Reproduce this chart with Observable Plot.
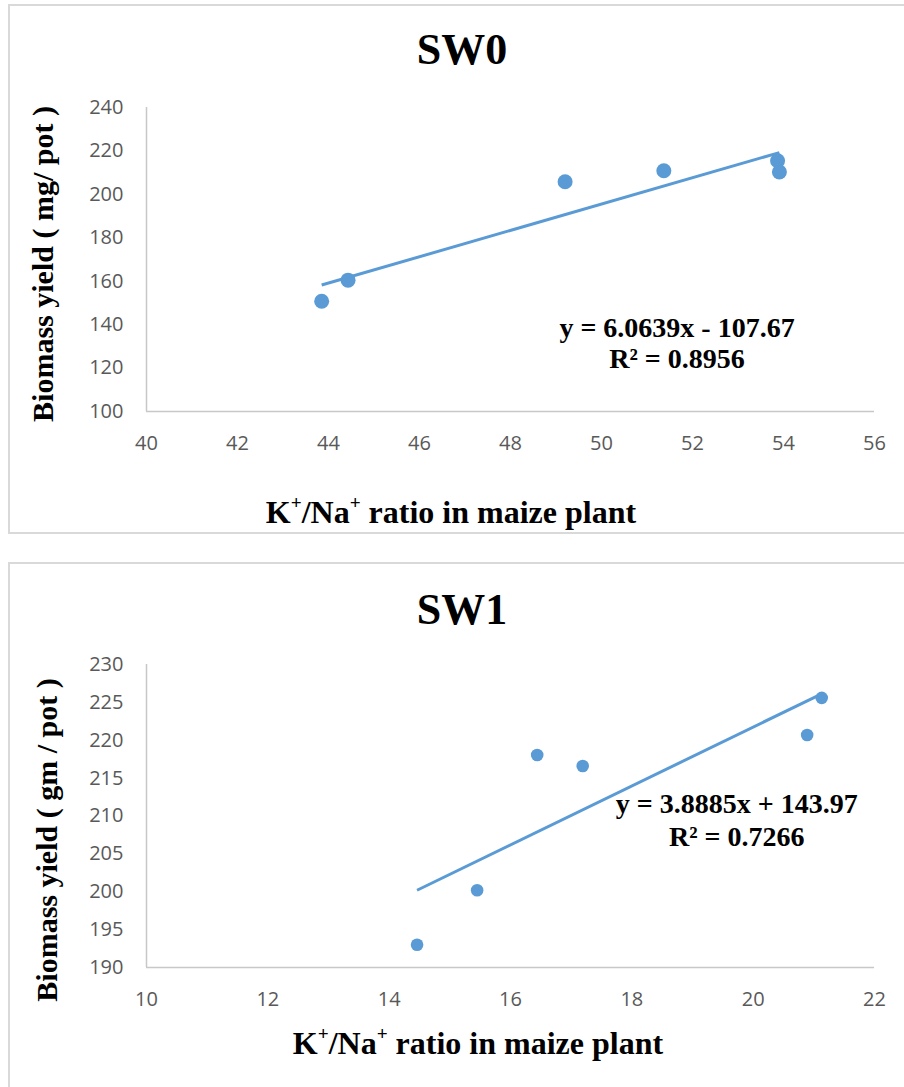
<!DOCTYPE html>
<html>
<head>
<meta charset="utf-8">
<script src="https://cdn.jsdelivr.net/npm/d3@7"></script>
<script src="https://cdn.jsdelivr.net/npm/@observablehq/plot@0.6"></script>
<style>
  html, body { margin: 0; padding: 0; background: #fff; }
  body { width: 904px; height: 1087px; overflow: hidden; position: relative; font-family: "Liberation Serif", "Times New Roman", serif; }
  .panel { position: absolute; left: 8px; width: 920px; border: 2px solid #d9d9d9; box-sizing: border-box; }
  .txt { position: absolute; white-space: nowrap; line-height: 1; font-weight: bold; color: #000; }
  .title { font-size: 44px; transform: translateX(-50%); }
  .xlab { font-size: 32px; transform: translateX(-50%); }
  .ylab { font-size: 30px; transform: translate(-50%, -50%) rotate(-90deg); }
  .sup { font-size: 0.6em; position: relative; top: -0.72em; }
  .plotbox { position: absolute; }
</style>
</head>
<body>
<div class="panel" style="top:4px;height:530px;"></div>
<div class="panel" style="top:562px;height:560px;"></div>

<div class="txt title" id="t0" style="left:462px;top:28px;"></div>
<div class="txt ylab" id="y0" style="left:43px;top:264px;"></div>
<div class="txt xlab" id="x0" style="left:451px;top:496px;"></div>
<div class="plotbox" id="p0" style="left:66px;top:87px;"></div>

<div class="txt title" id="t1" style="left:462px;top:588px;"></div>
<div class="txt ylab" id="y1" style="left:47px;top:840px;"></div>
<div class="txt xlab" id="x1" style="left:478px;top:1027px;"></div>
<div class="plotbox" id="p1" style="left:66px;top:644px;"></div>

<script>
// ---------- data ----------
const titles = ["SW0", "SW1"];
const yLabels = ["Biomass yield ( mg/ pot )", "Biomass yield ( gm / pot )"];
const xLabelHtml = 'K<span class="sup">+</span>/Na<span class="sup">+</span> ratio in maize plant';

// SW0
const sw0Ratio = [43.85, 44.43, 49.2, 51.37, 53.87, 53.91];
const sw0Yield = [150.8, 160.5, 205.8, 210.9, 215.5, 210.3];
const sw0Slope = 6.0639;
const sw0Intercept = -107.67;
const sw0Equation = "y = 6.0639x - 107.67\nR² = 0.8956";
const sw0XTicks = [40, 42, 44, 46, 48, 50, 52, 54, 56];
const sw0YTicks = [100, 120, 140, 160, 180, 200, 220, 240];

// SW1
const sw1Ratio = [14.46, 15.45, 16.44, 17.19, 20.89, 21.13];
const sw1Yield = [193.0, 200.2, 218.05, 216.6, 220.7, 225.6];
const sw1Slope = 3.8885;
const sw1Intercept = 143.97;
const sw1Equation = "y = 3.8885x + 143.97\nR² = 0.7266";
const sw1XTicks = [10, 12, 14, 16, 18, 20, 22];
const sw1YTicks = [190, 195, 200, 205, 210, 215, 220, 225, 230];

// ---------- layout / style (not data) ----------
const BLUE = "#5b9bd5";
const AXIS = "#c8c8c8";
const panels = [
  { ratio: sw0Ratio, yld: sw0Yield, slope: sw0Slope, intercept: sw0Intercept, eq: sw0Equation,
    xTicks: sw0XTicks, yTicks: sw0YTicks, height: 374, r: 7.5,
    eqPos: { x: 51.66, y: 119.9 }, eqLineHeight: 1.1, mount: "p0" },
  { ratio: sw1Ratio, yld: sw1Yield, slope: sw1Slope, intercept: sw1Intercept, eq: sw1Equation,
    xTicks: sw1XTicks, yTicks: sw1YTicks, height: 373, r: 6.3,
    eqPos: { x: 19.73, y: 206.1 }, eqLineHeight: 1.15, mount: "p1" }
];

titles.forEach((t, i) => { document.getElementById("t" + i).textContent = t; });
yLabels.forEach((t, i) => { document.getElementById("y" + i).textContent = t; });
[0, 1].forEach(i => { document.getElementById("x" + i).innerHTML = xLabelHtml; });

panels.forEach(p => {
  const pts = p.ratio.map((x, i) => ({ x, y: p.yld[i] }));
  const xr = d3.extent(p.ratio);
  const trend = xr.map(x => ({ x, y: p.slope * x + p.intercept }));
  const xDom = d3.extent(p.xTicks);
  const yDom = d3.extent(p.yTicks);
  const chart = Plot.plot({
    width: 828,
    height: p.height,
    marginLeft: 80,
    marginRight: 20,
    marginTop: 20,
    marginBottom: 50,
    style: { fontFamily: "'Open Sans', sans-serif", fontSize: "20px", color: "#595959", background: "transparent", overflow: "visible" },
    x: { domain: xDom, ticks: p.xTicks, tickSize: 0, tickPadding: 24, label: null },
    y: { domain: yDom, ticks: p.yTicks, tickSize: 0, tickPadding: 23, label: null },
    marks: [
      Plot.ruleY([yDom[0]], { stroke: AXIS, strokeWidth: 1.5 }),
      Plot.ruleX([xDom[0]], { stroke: AXIS, strokeWidth: 1.5 }),
      Plot.dot(pts, { x: "x", y: "y", r: p.r, fill: BLUE, stroke: "none" }),
      Plot.line(trend, { x: "x", y: "y", stroke: BLUE, strokeWidth: 3, strokeLinecap: "butt" }),
      Plot.text([p.eqPos], { x: "x", y: "y", text: () => p.eq, fontSize: 28, fontWeight: "bold",
        fontFamily: "'Liberation Serif', serif", fill: "#000", textAnchor: "middle",
        lineAnchor: "bottom", lineHeight: p.eqLineHeight })
    ]
  });
  document.getElementById(p.mount).appendChild(chart);
});
</script>
</body>
</html>
